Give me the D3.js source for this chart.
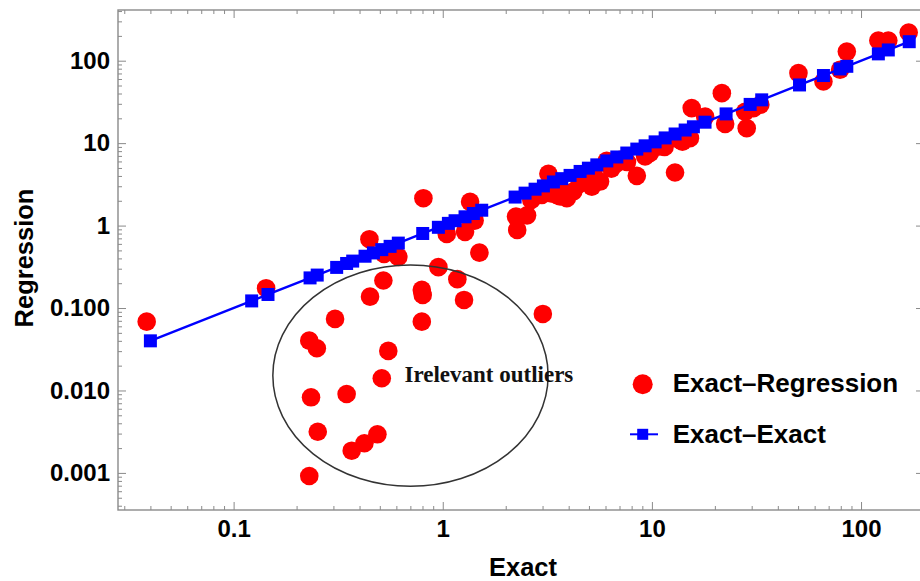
<!DOCTYPE html>
<html>
<head>
<meta charset="utf-8">
<script src="https://cdn.jsdelivr.net/npm/d3@7/dist/d3.min.js"></script>
<style>
  html, body { margin: 0; padding: 0; background: #fff; }
  svg { display: block; }
  .lbl { font-family: "Liberation Sans", Arial, sans-serif; font-weight: bold; fill: #000; }
</style>
</head>
<body>
<div id="chart"></div>
<script>
// Exact-Exact reference points (regression = exact)
const exactExactX = [0.04, 0.122, 0.146, 0.232, 0.251, 0.311, 0.347, 0.371, 0.425, 0.466,
  0.511, 0.560, 0.613, 0.802, 0.953, 1.064, 1.145, 1.278, 1.401, 1.536,
  2.218, 2.475, 2.763, 3.028, 3.381, 3.708, 4.062, 4.536, 4.970, 5.452,
  6.085, 6.795, 7.585, 8.469, 9.28, 10.36, 11.57, 12.91, 14.42, 15.79,
  17.95, 22.63, 29.5, 33.5, 50.8, 66.1, 79.4, 85.5, 121, 135, 170];
const exactExactY = exactExactX.slice();

// Exact-Regression points
const exactRegX = [0.0384, 0.143, 0.446, 0.808, 0.524, 0.613, 0.520, 0.449, 0.953, 0.794,
  0.802, 0.794, 0.3055, 0.230, 0.250, 0.549, 0.511, 0.2345, 0.347, 0.2525,
  0.367, 0.422, 0.487, 0.230, 1.174, 1.264, 3.01, 1.497, 1.351, 1.045,
  1.278, 2.24, 2.53, 2.27, 3.20, 2.975, 3.51, 3.92, 4.21, 5.16,
  5.25, 5.65, 6.08, 6.80, 7.05, 8.47, 9.28, 10.9, 12.9, 15.2,
  15.5, 17.97, 21.6, 22.4, 28.4, 30.6, 33.0, 50.2, 66.1, 79.4,
  85.5, 121, 135, 169, 14.0, 3.77, 9.80, 27.9,
  2.65, 3.3, 3.65, 4.5, 4.8, 6.4, 7.6, 11.5, 13.5, 1.42];
const exactRegY = [0.0684, 0.174, 0.684, 2.15, 0.454, 0.417, 0.216, 0.1375, 0.313, 0.166,
  0.144, 0.0684, 0.0738, 0.0402, 0.0325, 0.0302, 0.01406, 0.00826, 0.00907, 0.00316,
  0.00186, 0.00229, 0.00294, 0.000917, 0.224, 0.1254, 0.0848, 0.470, 1.94, 0.793,
  0.839, 1.286, 1.33, 0.887, 4.24, 2.36, 2.36, 2.15, 2.59, 2.97,
  4.48, 3.42, 6.10, 5.72, 6.27, 4.01, 6.88, 9.09, 4.40, 11.5,
  26.6, 21.0, 40.4, 17.1, 15.2, 26.6, 29.2, 70.7, 56.0, 77.6,
  129, 176, 176, 220, 10.4, 2.59, 7.62, 24.0,
  2.05, 2.45, 2.25, 3.2, 3.6, 4.9, 5.9, 9.0, 11.0, 1.15];

// Axis ticks
const xTickValues = [0.1, 1, 10, 100];
const xTickLabels = ["0.1", "1", "10", "100"];
const yTickValues = [0.001, 0.01, 0.1, 1, 10, 100];
const yTickLabels = ["0.001", "0.010", "0.100", "1", "10", "100"];

// Outlier annotation region (data-space bounding box) and its caption
const outlierBoxX = [0.154, 3.19];
const outlierBoxY = [0.00069, 0.333];
const outlierCaption = "Irelevant outliers";

const seriesNames = ["Exact\u2013Regression", "Exact\u2013Exact"];
const axisTitles = { x: "Exact", y: "Regression" };

const W = 920, H = 581;
const plotL = 118, plotR = 924, plotT = 10, plotB = 510;

const svg = d3.select("#chart").append("svg").attr("width", W).attr("height", H);

const x = d3.scaleLog().domain([0.028, 200]).range([plotL, plotR]);
const y = d3.scaleLog().domain([0.000355, 412]).range([plotB, plotT]);

// minor ticks 2..9 within each decade
function minorTicks(scale) {
  const [a, b] = scale.domain();
  const out = [];
  for (let e = Math.floor(Math.log10(a)); e <= Math.ceil(Math.log10(b)); e++) {
    for (let m = 2; m <= 9; m++) {
      const v = m * Math.pow(10, e);
      if (v >= a && v <= b) out.push(v);
    }
  }
  return out;
}
const xMinor = minorTicks(x), yMinor = minorTicks(y);

const frameColor = "#8a8a8a";

function styleAxis(g) {
  g.select(".domain").remove();
  g.selectAll(".tick line").attr("stroke", frameColor).attr("stroke-width", 1);
}

// bottom axis with labels
const gx = svg.append("g").attr("transform", `translate(0,${plotB})`)
  .call(d3.axisBottom(x).tickValues(xTickValues).tickSize(-8).tickSizeOuter(0).tickPadding(10)
    .tickFormat((d, i) => xTickLabels[i]));
styleAxis(gx);
gx.selectAll("text").attr("class", "lbl").style("font-size", "24px").attr("fill", "#000");
svg.append("g").attr("transform", `translate(0,${plotB})`)
  .call(d3.axisBottom(x).tickValues(xMinor).tickSize(-4).tickSizeOuter(0).tickFormat(""))
  .call(styleAxis);

// top frame ticks
svg.append("g").attr("transform", `translate(0,${plotT})`)
  .call(d3.axisTop(x).tickValues(xTickValues).tickSize(-8).tickSizeOuter(0).tickFormat(""))
  .call(styleAxis);
svg.append("g").attr("transform", `translate(0,${plotT})`)
  .call(d3.axisTop(x).tickValues(xMinor).tickSize(-4).tickSizeOuter(0).tickFormat(""))
  .call(styleAxis);

// left axis with labels
const gy = svg.append("g").attr("transform", `translate(${plotL},0)`)
  .call(d3.axisLeft(y).tickValues(yTickValues).tickSize(-8).tickSizeOuter(0).tickPadding(8)
    .tickFormat((d, i) => yTickLabels[i]));
styleAxis(gy);
gy.selectAll("text").attr("class", "lbl").style("font-size", "24px").attr("fill", "#000");
svg.append("g").attr("transform", `translate(${plotL},0)`)
  .call(d3.axisLeft(y).tickValues(yMinor).tickSize(-4).tickSizeOuter(0).tickFormat(""))
  .call(styleAxis);

// right frame ticks
svg.append("g").attr("transform", `translate(${plotR},0)`)
  .call(d3.axisRight(y).tickValues(yTickValues).tickSize(-8).tickSizeOuter(0).tickFormat(""))
  .call(styleAxis);
svg.append("g").attr("transform", `translate(${plotR},0)`)
  .call(d3.axisRight(y).tickValues(yMinor).tickSize(-4).tickSizeOuter(0).tickFormat(""))
  .call(styleAxis);

// frame
svg.append("rect").attr("x", plotL).attr("y", plotT)
  .attr("width", plotR - plotL).attr("height", plotB - plotT)
  .attr("fill", "none").attr("stroke", frameColor).attr("stroke-width", 1.4);

// Exact-Regression circles
const redPts = exactRegX.map((v, i) => [v, exactRegY[i]]);
svg.append("g").selectAll("circle").data(redPts).join("circle")
  .attr("cx", d => x(d[0])).attr("cy", d => y(d[1])).attr("r", 9.3)
  .attr("fill", "#ff0000");

// Exact-Exact line + squares
const bluePts = exactExactX.map((v, i) => [v, exactExactY[i]]).sort((a, b) => a[0] - b[0]);
svg.append("path").datum(bluePts)
  .attr("d", d3.line().x(d => x(d[0])).y(d => y(d[1])))
  .attr("fill", "none").attr("stroke", "#0000ff").attr("stroke-width", 2.4);
const sq = 13;
svg.append("g").selectAll("rect").data(bluePts).join("rect")
  .attr("x", d => x(d[0]) - sq / 2).attr("y", d => y(d[1]) - sq / 2)
  .attr("width", sq).attr("height", sq).attr("fill", "#0000ff");

// outlier ellipse
const ex0 = x(outlierBoxX[0]), ex1 = x(outlierBoxX[1]);
const ey0 = y(outlierBoxY[1]), ey1 = y(outlierBoxY[0]);
const ecx = (ex0 + ex1) / 2, ecy = (ey0 + ey1) / 2;
svg.append("ellipse").attr("cx", ecx).attr("cy", ecy)
  .attr("rx", (ex1 - ex0) / 2).attr("ry", (ey1 - ey0) / 2)
  .attr("fill", "none").attr("stroke", "#333").attr("stroke-width", 1.5);
svg.append("text").attr("x", ecx - 6).attr("y", ecy + 6)
  .attr("font-family", "'Liberation Serif', 'Times New Roman', serif")
  .attr("font-weight", "bold").attr("font-size", 23).attr("fill", "#111")
  .text(outlierCaption);

// axis titles
svg.append("text").attr("class", "lbl").attr("x", (plotL + plotR) / 2 + 2).attr("y", 576)
  .attr("text-anchor", "middle").style("font-size", "25.5px").text(axisTitles.x);
svg.append("text").attr("class", "lbl")
  .attr("transform", `translate(33,258) rotate(-90)`)
  .attr("text-anchor", "middle").style("font-size", "25.5px").text(axisTitles.y);

// legend
const lg = svg.append("g");
lg.append("circle").attr("cx", 642.7).attr("cy", 384.3).attr("r", 10).attr("fill", "#ff0000");
lg.append("text").attr("class", "lbl").attr("x", 672.7).attr("y", 391.7)
  .style("font-size", "26px").text(seriesNames[0]);
lg.append("line").attr("x1", 630).attr("x2", 658).attr("y1", 434.3).attr("y2", 434.3)
  .attr("stroke", "#0000ff").attr("stroke-width", 2);
lg.append("rect").attr("x", 642.7 - 5.5).attr("y", 434.3 - 5.5).attr("width", 11).attr("height", 11)
  .attr("fill", "#0000ff");
lg.append("text").attr("class", "lbl").attr("x", 672.7).attr("y", 442.7)
  .style("font-size", "26px").text(seriesNames[1]);
</script>
</body>
</html>
